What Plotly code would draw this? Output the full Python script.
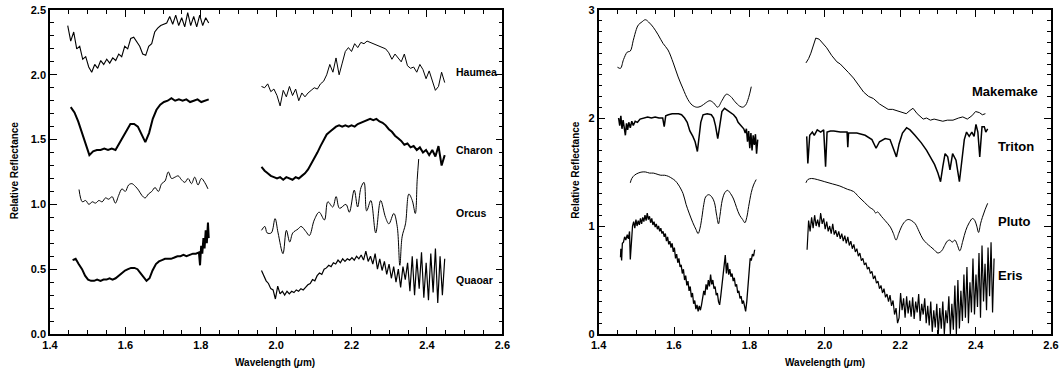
import numpy as np
import plotly.graph_objects as go

# ---------------- LEFT PANEL DATA (wavelength um, relative reflectance) ----------------
HAUMEA_L_RANGE = (1.447, 1.821)
HAUMEA_L = [2.38, 2.26, 2.33, 2.20, 2.22, 2.12, 2.14, 2.06, 2.02, 2.08, 2.05, 2.11, 2.08, 2.12, 2.09, 2.13,
            2.11, 2.16, 2.14, 2.22, 2.20, 2.28, 2.29, 2.25, 2.22, 2.16, 2.15, 2.22, 2.24, 2.33, 2.36, 2.38,
            2.39, 2.40, 2.45, 2.39, 2.46, 2.38, 2.44, 2.37, 2.48, 2.38, 2.45, 2.37, 2.46, 2.38, 2.44, 2.40]

HAUMEA_R_RANGE = (1.961, 2.447)
HAUMEA_R = [1.91, 1.90, 1.93, 1.87, 1.89, 1.84, 1.76, 1.88, 1.83, 1.91, 1.84, 1.89, 1.80, 1.86, 1.83, 1.86,
            1.88, 1.90, 1.89, 1.93, 1.95, 2.00, 2.08, 2.02, 2.13, 2.00, 2.09, 2.18, 2.21, 2.18, 2.24, 2.21,
            2.25, 2.24, 2.26, 2.25, 2.24, 2.23, 2.22, 2.21, 2.20, 2.17, 2.12, 2.16, 2.13, 2.10, 2.16, 2.07,
            2.05, 2.06, 2.02, 2.08, 2.04, 1.97, 2.03, 1.95, 1.88, 1.91, 2.02, 1.94]

CHARON_L_RANGE = (1.455, 1.821)
CHARON_L = [1.75, 1.71, 1.64, 1.55, 1.46, 1.38, 1.41, 1.42, 1.42, 1.43, 1.42, 1.43, 1.42, 1.47, 1.53, 1.58,
            1.62, 1.62, 1.60, 1.54, 1.48, 1.55, 1.66, 1.73, 1.77, 1.79, 1.80, 1.82, 1.80, 1.81, 1.80, 1.81,
            1.79, 1.80, 1.81, 1.79, 1.80, 1.81]

CHARON_R_RANGE = (1.961, 2.447)
CHARON_R = [1.29, 1.26, 1.24, 1.22, 1.21, 1.20, 1.21, 1.19, 1.21, 1.20, 1.19, 1.21, 1.20, 1.22, 1.24, 1.27,
            1.31, 1.35, 1.40, 1.45, 1.50, 1.54, 1.56, 1.58, 1.60, 1.61, 1.60, 1.61, 1.60, 1.61, 1.60, 1.62,
            1.63, 1.64, 1.65, 1.66, 1.65, 1.66, 1.64, 1.63, 1.61, 1.58, 1.56, 1.53, 1.51, 1.49, 1.46, 1.47,
            1.44, 1.45, 1.42, 1.44, 1.40, 1.42, 1.38, 1.42, 1.37, 1.45, 1.30, 1.38]

ORCUS_L_RANGE = (1.477, 1.819)
ORCUS_L = [1.115, 1.02, 1.03, 1.00, 1.02, 1.01, 1.03, 1.02, 1.05, 1.04, 1.06, 1.01, 1.07, 1.12, 1.10, 1.15,
           1.16, 1.14, 1.11, 1.07, 1.05, 1.08, 1.10, 1.13, 1.10, 1.16, 1.18, 1.25, 1.20, 1.21, 1.22, 1.19,
           1.17, 1.20, 1.16, 1.21, 1.15, 1.20, 1.17, 1.12]

ORCUS_R_WL = [1.961, 1.970, 1.976, 1.987, 1.997, 2.005, 2.018, 2.027, 2.036, 2.044, 2.058, 2.066, 2.079,
              2.088, 2.101, 2.114, 2.128, 2.137, 2.150, 2.159, 2.168, 2.185, 2.194, 2.207, 2.216, 2.225,
              2.233, 2.240, 2.251, 2.264, 2.277, 2.290, 2.299, 2.312, 2.321, 2.328, 2.334, 2.343, 2.352,
              2.361, 2.369, 2.374, 2.378]
ORCUS_R = [0.80, 0.83, 0.78, 0.78, 0.89, 0.78, 0.62, 0.80, 0.71, 0.78, 0.81, 0.83, 0.79, 0.76, 0.88, 0.94,
           0.88, 1.02, 0.98, 1.06, 0.97, 1.00, 0.94, 1.11, 0.98, 1.13, 1.17, 0.95, 1.03, 0.78, 1.03, 0.90,
           0.85, 0.93, 0.83, 0.53, 0.75, 0.85, 1.08, 1.03, 0.93, 1.19, 1.35]

QUAOAR_L_WL = [1.460, 1.468, 1.476, 1.485, 1.493, 1.501, 1.509, 1.517, 1.525, 1.534, 1.542, 1.550, 1.558,
               1.566, 1.574, 1.583, 1.591, 1.599, 1.607, 1.615, 1.624, 1.632, 1.640, 1.648, 1.656, 1.664,
               1.672, 1.681, 1.689, 1.697, 1.705, 1.713, 1.721, 1.730, 1.738, 1.746, 1.754, 1.762, 1.770,
               1.779, 1.787, 1.795, 1.798, 1.801, 1.804, 1.807, 1.810, 1.813, 1.816, 1.819, 1.821]
QUAOAR_L = [0.57, 0.58, 0.54, 0.50, 0.45, 0.42, 0.41, 0.41, 0.42, 0.41, 0.42, 0.42, 0.43, 0.42, 0.43, 0.45,
            0.47, 0.49, 0.50, 0.51, 0.51, 0.50, 0.47, 0.44, 0.41, 0.43, 0.49, 0.54, 0.56, 0.57, 0.58, 0.58,
            0.58, 0.59, 0.60, 0.60, 0.61, 0.60, 0.61, 0.62, 0.62, 0.63, 0.53, 0.68, 0.62, 0.74, 0.66, 0.80,
            0.70, 0.86, 0.74]

QUAOAR_R_RANGE = (1.961, 2.447)
QUAOAR_R = [0.49, 0.45, 0.41, 0.39, 0.35, 0.34, 0.27, 0.37, 0.31, 0.33, 0.30, 0.33, 0.31, 0.33, 0.32, 0.34,
            0.33, 0.35, 0.34, 0.36, 0.38, 0.39, 0.42, 0.41, 0.45, 0.47, 0.46, 0.50, 0.51, 0.53, 0.52, 0.55,
            0.54, 0.57, 0.55, 0.58, 0.56, 0.58, 0.57, 0.59, 0.57, 0.60, 0.58, 0.61, 0.57, 0.64, 0.56, 0.60,
            0.54, 0.62, 0.50, 0.58, 0.49, 0.56, 0.46, 0.54, 0.43, 0.52, 0.40, 0.50, 0.36, 0.52, 0.42, 0.55,
            0.33, 0.60, 0.30, 0.58, 0.35, 0.63, 0.28, 0.55, 0.26, 0.62, 0.32, 0.66, 0.24, 0.60, 0.30, 0.58]

# ---------------- RIGHT PANEL DATA ----------------
MAKEMAKE_L_WL = [1.450, 1.458, 1.466, 1.476, 1.484, 1.492, 1.500, 1.505, 1.515, 1.524, 1.535, 1.545, 1.558,
                 1.571, 1.584, 1.598, 1.611, 1.624, 1.637, 1.648, 1.660, 1.672, 1.684, 1.695, 1.705, 1.716,
                 1.727, 1.739, 1.750, 1.762, 1.774, 1.782, 1.790, 1.798, 1.805]
MAKEMAKE_L = [2.47, 2.46, 2.54, 2.61, 2.62, 2.72, 2.82, 2.86, 2.89, 2.91, 2.88, 2.84, 2.77, 2.69, 2.63, 2.51,
              2.38, 2.27, 2.17, 2.12, 2.10, 2.11, 2.14, 2.16, 2.14, 2.10, 2.16, 2.22, 2.20, 2.15, 2.11, 2.10,
              2.12, 2.19, 2.29]

MAKEMAKE_R_WL = [1.950, 1.957, 1.963, 1.970, 1.976, 1.985, 1.992, 2.005, 2.018, 2.032, 2.041, 2.050, 2.063,
                 2.076, 2.090, 2.103, 2.116, 2.129, 2.145, 2.155, 2.168, 2.180, 2.190, 2.205, 2.216, 2.226,
                 2.234, 2.245, 2.255, 2.261, 2.270, 2.280, 2.290, 2.300, 2.313, 2.325, 2.340, 2.355, 2.366,
                 2.378, 2.390, 2.400, 2.410, 2.418, 2.426]
MAKEMAKE_R = [2.51, 2.55, 2.60, 2.68, 2.74, 2.73, 2.70, 2.65, 2.58, 2.52, 2.50, 2.47, 2.42, 2.37, 2.30, 2.24,
              2.20, 2.18, 2.13, 2.11, 2.08, 2.08, 2.07, 2.05, 2.04, 2.07, 2.09, 2.04, 2.01, 1.99, 2.00, 1.98,
              1.99, 1.98, 1.97, 1.98, 1.98, 2.00, 2.01, 1.99, 2.02, 2.06, 2.05, 2.03, 2.04]

TRITON_L_WL = [1.453, 1.456, 1.459, 1.462, 1.465, 1.468, 1.471, 1.474, 1.477, 1.480, 1.484, 1.488, 1.492,
               1.497, 1.503, 1.510, 1.520, 1.530, 1.540, 1.550, 1.560, 1.570, 1.574, 1.578, 1.585, 1.595,
               1.605, 1.612, 1.620, 1.628, 1.635, 1.642, 1.650, 1.656, 1.662, 1.666, 1.671, 1.677, 1.688,
               1.699, 1.705, 1.710, 1.716, 1.721, 1.727, 1.734, 1.742, 1.750, 1.758, 1.765, 1.770, 1.775,
               1.780, 1.785, 1.789, 1.792, 1.795, 1.798, 1.801, 1.804, 1.807, 1.810, 1.813, 1.816, 1.819,
               1.822]
TRITON_L = [2.00, 1.93, 2.02, 1.90, 1.98, 1.88, 1.84, 1.95, 1.89, 1.96, 1.91, 1.97, 1.93, 1.97, 1.96, 1.99,
            2.00, 2.01, 2.00, 2.01, 2.00, 2.00, 1.92, 2.02, 2.03, 2.04, 2.04, 2.04, 2.03, 2.00, 1.96, 1.88,
            1.83, 1.78, 1.69, 1.80, 1.96, 2.03, 2.04, 2.03, 2.00, 1.93, 1.81, 1.92, 2.06, 2.09, 2.07, 2.05,
            2.03, 2.00, 1.96, 1.94, 1.92, 1.90, 1.86, 1.90, 1.78, 1.88, 1.72, 1.86, 1.70, 1.84, 1.75, 1.85,
            1.67, 1.80]

TRITON_R_WL = [1.952, 1.955, 1.960, 1.967, 1.972, 1.980, 1.989, 1.997, 2.002, 2.006, 2.015, 2.024, 2.041,
               2.059, 2.061, 2.063, 2.085, 2.107, 2.125, 2.136, 2.145, 2.160, 2.173, 2.181, 2.190, 2.197,
               2.206, 2.217, 2.226, 2.239, 2.256, 2.270, 2.282, 2.291, 2.300, 2.307, 2.313, 2.319, 2.326,
               2.332, 2.339, 2.348, 2.357, 2.364, 2.370, 2.376, 2.383, 2.390, 2.396, 2.401, 2.406, 2.411,
               2.417, 2.423, 2.427, 2.432]
TRITON_R = [1.83, 1.58, 1.84, 1.87, 1.84, 1.89, 1.87, 1.89, 1.55, 1.87, 1.88, 1.88, 1.87, 1.87, 1.73, 1.86,
            1.86, 1.84, 1.80, 1.72, 1.78, 1.81, 1.80, 1.73, 1.64, 1.76, 1.86, 1.91, 1.89, 1.84, 1.77, 1.70,
            1.63, 1.57, 1.49, 1.41, 1.55, 1.67, 1.64, 1.52, 1.67, 1.61, 1.41, 1.60, 1.80, 1.87, 1.83, 1.87,
            1.83, 1.94, 1.87, 1.64, 1.92, 1.92, 1.87, 1.90]

PLUTO_L_WL = [1.484, 1.488, 1.495, 1.505, 1.515, 1.525, 1.535, 1.545, 1.555, 1.565, 1.575, 1.585, 1.595,
              1.603, 1.612, 1.624, 1.632, 1.640, 1.650, 1.658, 1.664, 1.669, 1.674, 1.679, 1.684, 1.692,
              1.700, 1.707, 1.713, 1.718, 1.722, 1.728, 1.735, 1.742, 1.750, 1.758, 1.766, 1.774, 1.782,
              1.788, 1.793, 1.798, 1.805, 1.811, 1.818]
PLUTO_L = [1.40, 1.44, 1.47, 1.49, 1.50, 1.50, 1.49, 1.49, 1.48, 1.47, 1.47, 1.46, 1.44, 1.42, 1.38, 1.30,
           1.20, 1.12, 1.03, 0.97, 0.93, 0.98, 1.08, 1.20, 1.27, 1.29, 1.27, 1.22, 1.10, 1.02, 1.10, 1.24,
           1.31, 1.33, 1.30, 1.25, 1.17, 1.10, 1.06, 1.03, 1.08, 1.18, 1.31, 1.38, 1.43]

PLUTO_R_WL = [1.950, 1.955, 1.965, 1.980, 2.000, 2.020, 2.040, 2.060, 2.076, 2.090, 2.105, 2.120, 2.129,
              2.135, 2.140, 2.150, 2.160, 2.174, 2.182, 2.189, 2.196, 2.203, 2.212, 2.221, 2.230, 2.240,
              2.250, 2.260, 2.270, 2.280, 2.290, 2.300, 2.310, 2.318, 2.325, 2.332, 2.338, 2.345, 2.352,
              2.358, 2.366, 2.374, 2.383, 2.392, 2.398, 2.403, 2.408, 2.413, 2.418, 2.425, 2.432]
PLUTO_R = [1.40, 1.43, 1.44, 1.43, 1.41, 1.39, 1.37, 1.34, 1.32, 1.27, 1.22, 1.17, 1.15, 1.12, 1.13, 1.09,
           1.05, 0.99, 0.93, 0.87, 0.93, 0.99, 1.04, 1.06, 1.05, 1.02, 0.95, 0.88, 0.84, 0.81, 0.78, 0.75,
           0.77, 0.82, 0.86, 0.87, 0.85, 0.87, 0.82, 0.77, 0.86, 0.96, 1.03, 1.07, 1.05, 1.00, 0.94, 1.02,
           1.08, 1.15, 1.21]

ERIS_L_HEAD_WL = [1.458, 1.459, 1.461, 1.463, 1.466, 1.469, 1.472, 1.476, 1.479, 1.482, 1.484, 1.487, 1.490]
ERIS_L_HEAD = [0.71, 0.79, 0.68, 0.84, 0.85, 0.90, 0.87, 0.92, 0.88, 0.95, 0.69, 0.90, 1.00]
ERIS_L_RANGE = (1.493, 1.814)
ERIS_L = [1.04, 0.98, 1.06, 1.00, 1.05, 1.01, 1.07, 1.02, 1.08, 1.04, 1.10, 1.05, 1.12, 1.06, 1.09, 1.03,
          1.07, 1.01, 1.04, 0.99, 1.02, 0.97, 1.00, 0.95, 0.98, 0.93, 0.95, 0.90, 0.93, 0.86, 0.90, 0.83,
          0.86, 0.80, 0.84, 0.76, 0.80, 0.70, 0.74, 0.66, 0.70, 0.62, 0.64, 0.56, 0.60, 0.50, 0.54, 0.45,
          0.49, 0.40, 0.44, 0.34, 0.38, 0.28, 0.31, 0.23, 0.27, 0.21, 0.26, 0.22, 0.27, 0.33, 0.40, 0.36,
          0.46, 0.41, 0.50, 0.44, 0.55, 0.46, 0.50, 0.42, 0.44, 0.36, 0.38, 0.30, 0.27, 0.35, 0.45, 0.58,
          0.64, 0.73, 0.56, 0.66, 0.55, 0.60, 0.53, 0.56, 0.49, 0.52, 0.44, 0.46, 0.38, 0.40, 0.33, 0.35,
          0.28, 0.31, 0.26, 0.21, 0.30, 0.45, 0.60, 0.70, 0.68, 0.74, 0.72, 0.78]

ERIS_R_RANGE = (1.953, 2.449)
ERIS_R = [0.78, 1.05, 0.95, 1.08, 0.98, 1.10, 1.00, 1.06, 0.99, 1.12,
          1.02, 1.07, 0.97, 1.04, 0.95, 1.00, 0.93, 1.02, 0.92, 0.96,
          0.90, 0.95, 0.88, 0.93, 0.86, 0.91, 0.84, 0.90, 0.82, 0.86,
          0.79, 0.83, 0.76, 0.79, 0.72, 0.75, 0.68, 0.70, 0.64, 0.66,
          0.60, 0.62, 0.56, 0.58, 0.51, 0.54, 0.47, 0.49, 0.42, 0.45,
          0.38, 0.42, 0.34, 0.37, 0.30, 0.36, 0.26, 0.31, 0.18, 0.24,
          0.10, 0.15, 0.38, 0.22, 0.33, 0.15, 0.35, 0.19, 0.31, 0.16,
          0.34, 0.14, 0.30, 0.20, 0.37, 0.12, 0.28, 0.18, 0.33, 0.10,
          0.26, 0.08, 0.30, 0.02, 0.22, 0.06, 0.28, 0.00, 0.24, 0.05,
          0.30, 0.00, 0.22, 0.10, 0.35, 0.00, 0.28, 0.04, 0.45, 0.00,
          0.50, 0.05, 0.40, 0.12, 0.55, 0.15, 0.62, 0.10, 0.48, 0.20,
          0.70, 0.18, 0.55, 0.25, 0.75, 0.15, 0.82, 0.30, 0.65, 0.22,
          0.80, 0.35, 0.85, 0.20, 0.70]

LEFT_NAMES = ["Haumea", "Charon", "Orcus", "Quaoar"]
LEFT_NAME_Y = [2.02, 1.42, 0.93, 0.42]
RIGHT_NAMES = ["Makemake", "Triton", "Pluto", "Eris"]
RIGHT_NAME_Y = [2.25, 1.74, 1.04, 0.54]


def grid(rng, vals):
    return np.linspace(rng[0], rng[1], len(vals))


fig = go.Figure()


def add(x, y, panel, width=1.0, shape="linear"):
    fig.add_trace(go.Scatter(
        x=list(x), y=list(y), mode="lines",
        line=dict(color="black", width=width, shape=shape),
        xaxis="x" if panel == 1 else "x2", yaxis="y" if panel == 1 else "y2",
        showlegend=False, hoverinfo="skip"))


# left panel
add(grid(HAUMEA_L_RANGE, HAUMEA_L), HAUMEA_L, 1, 1.1)
add(grid(HAUMEA_R_RANGE, HAUMEA_R), HAUMEA_R, 1, 1.0)
add(grid(CHARON_L_RANGE, CHARON_L), CHARON_L, 1, 2.0)
add(grid(CHARON_R_RANGE, CHARON_R), CHARON_R, 1, 2.0)
add(grid(ORCUS_L_RANGE, ORCUS_L), ORCUS_L, 1, 1.0, "spline")
add(ORCUS_R_WL, ORCUS_R, 1, 1.0, "spline")
add(QUAOAR_L_WL, QUAOAR_L, 1, 2.0)
add(grid(QUAOAR_R_RANGE, QUAOAR_R), QUAOAR_R, 1, 1.2)

# right panel
add(MAKEMAKE_L_WL, MAKEMAKE_L, 2, 1.0, "spline")
add(MAKEMAKE_R_WL, MAKEMAKE_R, 2, 1.0)
add(TRITON_L_WL, TRITON_L, 2, 1.5)
add(TRITON_R_WL, TRITON_R, 2, 1.5)
add(PLUTO_L_WL, PLUTO_L, 2, 1.0, "spline")
add(PLUTO_R_WL, PLUTO_R, 2, 1.0, "spline")
add(ERIS_L_HEAD_WL + list(grid(ERIS_L_RANGE, ERIS_L)), ERIS_L_HEAD + ERIS_L, 2, 1.3)
add(grid(ERIS_R_RANGE, ERIS_R), ERIS_R, 2, 1.2)

FONT = "Liberation Sans"
tickfont = dict(family=FONT, size=11, color="black", weight="bold")
common = dict(showline=True, linecolor="black", linewidth=1.5, mirror="allticks", ticks="inside",
              ticklen=7, tickwidth=1.2, tickcolor="black", showgrid=False, zeroline=False,
              tickfont=tickfont)

plot_w = 1009
fig.update_layout(
    width=1063, height=369,
    margin=dict(l=50, r=4, t=10, b=35),
    paper_bgcolor="white", plot_bgcolor="white",
    xaxis=dict(domain=[0, 456 / plot_w], range=[1.4, 2.6], tick0=1.4, dtick=0.2, tickformat=".1f",
               minor=dict(ticks="inside", ticklen=4, dtick=0.05, tick0=1.4, tickcolor="black", tickwidth=1),
               anchor="y", **common),
    yaxis=dict(domain=[0, 1], range=[0, 2.5], tick0=0, dtick=0.5, tickformat=".1f",
               minor=dict(ticks="inside", ticklen=4, dtick=0.1, tick0=0, tickcolor="black", tickwidth=1),
               anchor="x", **common),
    xaxis2=dict(domain=[553 / plot_w, 1], range=[1.4, 2.6], tick0=1.4, dtick=0.2, tickformat=".1f",
                minor=dict(ticks="inside", ticklen=4, dtick=0.05, tick0=1.4, tickcolor="black", tickwidth=1),
                anchor="y2", **common),
    yaxis2=dict(domain=[0, 1], range=[0, 3], tick0=0, dtick=1, tickformat="d",
                minor=dict(ticks="inside", ticklen=4, dtick=0.1, tick0=0, tickcolor="black", tickwidth=1),
                anchor="x2", **common),
)

ann = []
for name, yv in zip(LEFT_NAMES, LEFT_NAME_Y):
    ann.append(dict(x=2.471, y=yv, xref="x", yref="y", text=name, showarrow=False, xanchor="left",
                    yanchor="middle", font=dict(family=FONT, size=10.5, color="black", weight="bold")))
for name, yv in zip(RIGHT_NAMES, RIGHT_NAME_Y):
    xpos = 2.384 if name == "Makemake" else 2.453
    ann.append(dict(x=xpos, y=yv, xref="x2", yref="y2", text=name, showarrow=False, xanchor="left",
                    yanchor="middle", font=dict(family=FONT, size=13, color="black", weight="bold")))

title_font = dict(family=FONT, size=10, color="black", weight="bold")
for xc in [(277 - 50) / plot_w, (831 - 50) / plot_w]:
    ann.append(dict(x=xc, y=(334 - 362) / 324, xref="paper", yref="paper",
                    text="Wavelength (<i>μ</i>m)", showarrow=False, xanchor="center", yanchor="middle",
                    font=title_font))
for xc in [(14 - 50) / plot_w, (579 - 50) / plot_w]:
    ann.append(dict(x=xc, y=0.506, xref="paper", yref="paper", text="Relative Reflectance",
                    showarrow=False, textangle=-90, xanchor="center", yanchor="middle", font=title_font))

fig.update_layout(annotations=ann)
fig.write_html("out.html", config={"displayModeBar": False},
               post_script="document.body.style.margin='0';document.body.style.overflow='hidden';")
